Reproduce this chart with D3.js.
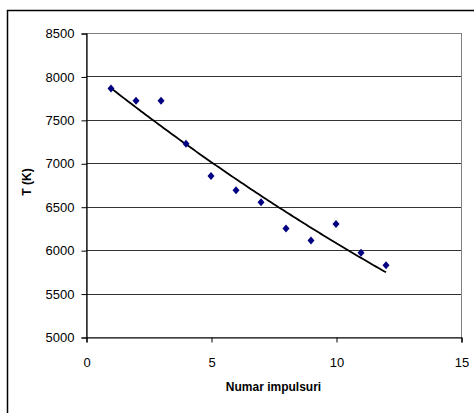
<!DOCTYPE html>
<html>
<head>
<style>
  body{margin:0;background:#fff}
  .chart text{font-family:"Liberation Sans",Arial,sans-serif;fill:#000}
  .chart .tick text{font-size:13px}
  .chart .title{font-size:12px;font-weight:bold}
</style>
</head>
<body>
<div id="chart"></div>
<script src="https://d3js.org/d3.v7.min.js"></script>
<script>
// data
var pulses = [1, 2, 3, 4, 5, 6, 7, 8, 9, 10, 11, 12];
var temps  = [7860, 7720, 7720, 7225, 6855, 6690, 6550, 6250, 6110, 6300, 5970, 5825];
var xTicks = [0, 5, 10, 15];
var yTicks = [5000, 5500, 6000, 6500, 7000, 7500, 8000, 8500];

(function () {
  var width = 474, height = 413,
      left = 86, right = 461, top = 33, bottom = 337;

  var svg = d3.select('#chart').append('svg')
    .attr('class', 'chart')
    .attr('width', width)
    .attr('height', height);

  var x = d3.scaleLinear().domain([0, 15]).range([left, right]);
  var y = d3.scaleLinear().domain([5000, 8500]).range([bottom, top]);

  // outer chart frame (cut off at right and bottom)
  svg.append('path')
    .attr('d', 'M7.5,' + (height + 5) + 'V10.5H' + (width + 5))
    .attr('fill', 'none')
    .attr('stroke', '#000')
    .attr('stroke-width', 1.5);

  // plot area border
  svg.append('rect')
    .attr('x', left + 0.5).attr('y', top + 0.5)
    .attr('width', right - left).attr('height', bottom - top)
    .attr('fill', 'none')
    .attr('stroke', '#808080');

  // gridlines
  svg.append('g').selectAll('line')
    .data(yTicks.slice(1, -1))
    .join('line')
    .attr('x1', left).attr('x2', right)
    .attr('y1', function (d) { return Math.round(y(d)) + 0.5; })
    .attr('y2', function (d) { return Math.round(y(d)) + 0.5; })
    .attr('stroke', '#333');

  // y axis
  var yAxis = svg.append('g')
    .attr('transform', 'translate(' + (left + 0.5) + ',0.5)')
    .call(d3.axisLeft(y).tickValues(yTicks).tickSize(5).tickPadding(7).tickFormat(d3.format('d')));
  yAxis.select('.domain').attr('stroke', '#000').attr('stroke-width', 1.2);
  yAxis.selectAll('.tick line').attr('stroke', '#000');
  yAxis.selectAll('.tick text').attr('font-family', null).attr('font-size', null);

  // x axis
  var xAxis = svg.append('g')
    .attr('transform', 'translate(0.5,' + (bottom + 0.5) + ')')
    .call(d3.axisBottom(x).tickValues(xTicks).tickSize(5).tickPadding(15));
  xAxis.select('.domain').attr('stroke', '#000').attr('stroke-width', 1.2);
  xAxis.selectAll('.tick line').attr('stroke', '#000');
  xAxis.selectAll('.tick text').attr('font-family', null).attr('font-size', null);

  // exponential trendline: least squares fit of ln(T) against pulses
  var lx = d3.mean(pulses),
      ly = d3.mean(temps, function (d) { return Math.log(d); }),
      sxy = 0, sxx = 0, i;
  for (i = 0; i < pulses.length; i++) {
    sxy += (pulses[i] - lx) * (Math.log(temps[i]) - ly);
    sxx += (pulses[i] - lx) * (pulses[i] - lx);
  }
  var b = sxy / sxx, a = ly - b * lx;
  var fit = function (v) { return Math.exp(a + b * v); };

  svg.append('path')
    .datum(d3.range(pulses[0], pulses[pulses.length - 1] + 0.001, 0.1))
    .attr('d', d3.line().x(function (d) { return x(d); }).y(function (d) { return y(fit(d)); }))
    .attr('fill', 'none')
    .attr('stroke', '#000')
    .attr('stroke-width', 1.8);

  // markers
  svg.append('g').selectAll('path')
    .data(pulses)
    .join('path')
    .attr('transform', function (d, j) { return 'translate(' + x(d) + ',' + y(temps[j]) + ')'; })
    .attr('d', 'M0,-4L3.5,0L0,4L-3.5,0Z')
    .attr('fill', '#000080');

  // titles
  svg.append('text')
    .attr('class', 'title')
    .attr('x', (left + right) / 2)
    .attr('y', 391)
    .attr('text-anchor', 'middle')
    .text('Numar impulsuri');

  svg.append('text')
    .attr('class', 'title')
    .attr('transform', 'translate(31,' + 182 + ') rotate(-90)')
    .attr('text-anchor', 'middle')
    .text('T (K)');
})();
</script>
</body>
</html>
